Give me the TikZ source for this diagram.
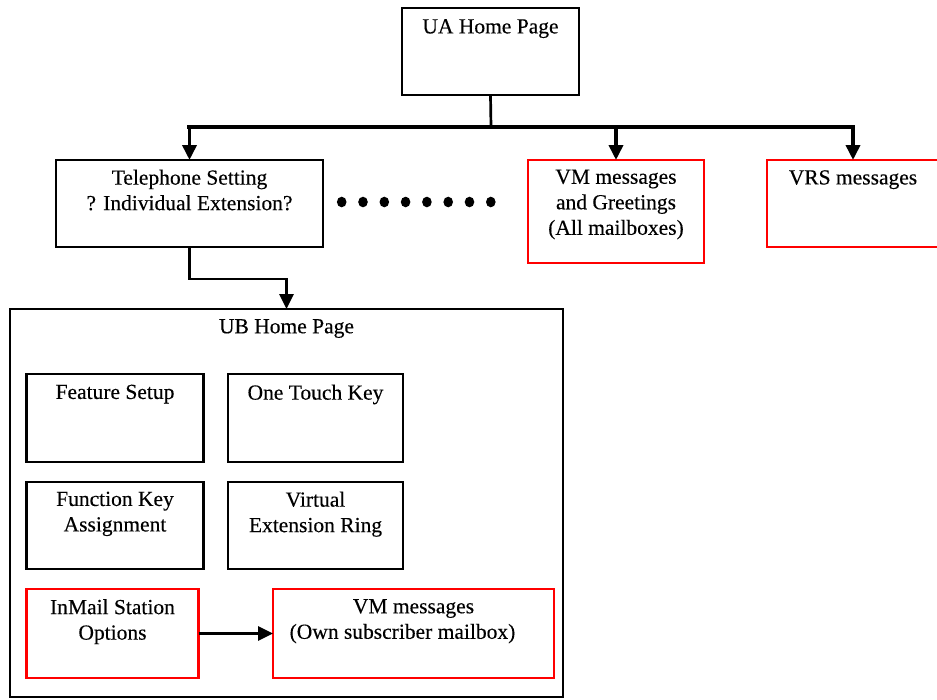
\documentclass[tikz,border=0pt]{standalone}
\usepackage{fontspec}
\setmainfont{Liberation Serif}
\usetikzlibrary{arrows.meta}
\begin{document}
\begin{tikzpicture}[x=1pt,y=1pt,
  box/.style={draw=black, line width=2.9pt, inner sep=0pt, outer sep=0pt, anchor=north west},
  redbox/.style={box, draw=red},
  txt/.style={font=\fontsize{21.5}{25.5}\selectfont\addfontfeature{FakeBold=0.3}, align=center, inner sep=0pt, anchor=north},
  conn/.style={line width=2.7pt},
  thickconn/.style={line width=3.6pt},
  tip/.style={-{Triangle[length=15pt,width=14pt]}},
]
\useasboundingbox (0,0) rectangle (937,-699);
\clip (0,0) rectangle (937,-699);

% boxes
\node[box, minimum width=177, minimum height=87] (ua) at (402,-8) {};
\node[box, minimum width=267, minimum height=87] (tel) at (56,-160) {};
\node[redbox, minimum width=176, minimum height=103] (vm) at (528,-160) {};
\node[redbox, minimum width=172, minimum height=87] (vrs) at (767,-160) {};
\node[box, minimum width=553, minimum height=388] (ub) at (10,-309) {};
\node[box, minimum width=177, minimum height=88] (fs) at (26.5,-374) {};
\node[box, minimum width=175, minimum height=88] (otk) at (228,-374) {};
\node[box, minimum width=177, minimum height=87] (fka) at (26.5,-482) {};
\node[box, minimum width=175, minimum height=87] (ver) at (228,-482) {};
\node[redbox, minimum width=172, minimum height=89] (ims) at (26.5,-589) {};
\node[redbox, minimum width=281, minimum height=89] (vmo) at (273,-589) {};

% texts
\node[txt] (uat) at ([yshift=-11]ua.north) {UA Home Page};
\node[txt] (telt) at ([yshift=-9.5]tel.north) {Telephone Setting\\? Individual Extension?};
\node[txt] (vmt) at ([yshift=-9.5]vm.north) {VM messages\\and Greetings\\(All mailboxes)};
\node[txt] (vrst) at ([yshift=-10]vrs.north) {VRS messages};
\node[txt] (ubt) at ([yshift=-10]ub.north) {UB Home Page};
\node[txt] (fst) at ([yshift=-10.5]fs.north) {Feature Setup};
\node[txt] (otkt) at ([yshift=-10.5]otk.north) {One Touch Key};
\node[txt] (fkat) at ([yshift=-9.5]fka.north) {Function Key\\Assignment};
\node[txt] (vert) at ([yshift=-9.5]ver.north) {Virtual\\Extension Ring};
\node[txt] (imst) at ([yshift=-10]ims.north) {InMail Station\\Options};
\node[txt] (vmot) at ([yshift=-10]vmo.north) {VM messages\\(Own subscriber mailbox)\hbox to 22pt{}};

% connectors
\coordinate (bus) at (491,-127);
\draw[conn] (ua.south) -- (bus);
\draw[line width=4.8pt, line cap=rect] (tel.north |- bus) -- (vrs.north |- bus);
\draw[thickconn, tip] (tel.north |- bus) -- (tel.north);
\draw[thickconn, tip] (vm.north |- bus) -- (vm.north);
\draw[thickconn, tip] (vrs.north |- bus) -- (vrs.north);
\draw[conn, tip] (tel.south) -- ([yshift=-32]tel.south) -| (ub.north);
\draw[conn, tip] (ims.east) -- (vmo.west);

% dots
\foreach \i in {0,...,7}
  \fill (341.7+21.3*\i,-202) circle[x radius=4.8, y radius=5.3];
\end{tikzpicture}
\end{document}
